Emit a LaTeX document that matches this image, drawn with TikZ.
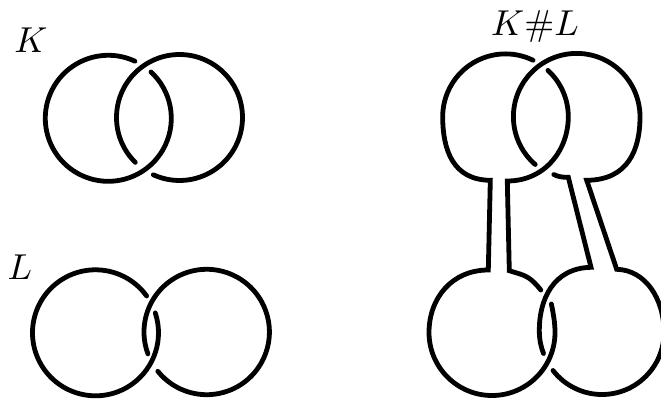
\documentclass[tikz,border=0pt]{standalone}
\tikzset{knot/.style={line width=4.8pt,line cap=round,miter limit=4,black},
  lab/.style={anchor=base,inner sep=0pt,scale=3.6}}
\newcommand\kfrom[5]{({#1+#3*cos(#4)},{#2-#3*sin(#4)}) arc[start angle=#4,end angle=#5,radius=#3 pt]}
\begin{document}
\begin{tikzpicture}[x=1pt,y=-1pt]
\useasboundingbox[clip] (0,0) rectangle (661,402);
% K
\draw[knot] \kfrom{108.3}{118.3}{63}{65}{407.3};
\draw[knot] \kfrom{179.5}{117.5}{63}{225.4}{-114.6};
\node[lab] (k) at (31,52) {$K$};
% L
\draw[knot] \kfrom{95.5}{332.8}{63}{35.8}{378.4};
\draw[knot] \kfrom{206.7}{332}{62.7}{200.4}{-141.2};
\node[lab] (l) at (20,279) {$L$};
% K#L
\node[lab] (kl) at (535,35) {$K\#L$};
\draw[knot] \kfrom{505.5}{116.7}{62.8}{64}{180}
  .. controls (442.7,150) and (453,180) .. (490.3,180.3)
  -- (488.3,270)
  .. controls (452,270) and (429,298) .. (429,332.5)
  arc[start angle=180,end angle=360,radius=63pt]
  .. controls (555,322) and (553.3,314) .. (551.4,304);
\draw[knot] \kfrom{505.5}{116.7}{62.8}{47.5}{0}
  .. controls (568.3,150) and (545,181) .. (507.3,181)
  -- (509.3,270.7) -- (520,274)
  .. controls (530,277) and (535,283) .. (540.8,290);
\draw[knot] \kfrom{576.7}{116.7}{63.3}{229}{0}
  .. controls (640,150) and (628,180) .. (586.7,180.3)
  -- (616.7,269.3)
  .. controls (645,270) and (664,298) .. (664,332.5)
  arc[start angle=0,end angle=-142.2,radius=62pt];
\draw[knot] (543.5,353.5) .. controls (541,347) and (539.3,340) .. (539.3,330)
  .. controls (539.3,300) and (553,268) .. (591,267.3)
  -- (568.3,177.3) -- (565,177.3)
  .. controls (561,177) and (557.5,176.4) .. (553.8,174.5);
\end{tikzpicture}
\end{document}
